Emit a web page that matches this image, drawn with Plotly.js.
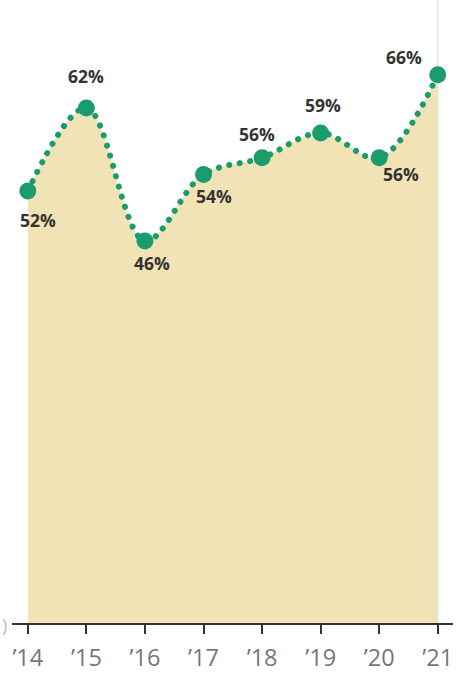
<!DOCTYPE html>
<html><head><meta charset="utf-8">
<script src="https://cdn.plot.ly/plotly-3.0.1.min.js"></script>
<style>html,body{margin:0;padding:0;background:#fff}#chart{width:474px;height:686px}</style>
</head><body><div id="chart"></div>
<script>
const years = ["’14","’15","’16","’17","’18","’19","’20","’21"];
const values = [52, 62, 46, 54, 56, 59, 56, 66];
const labels = ["52%","62%","46%","54%","56%","59%","56%","66%"];
// label placement offsets (px) relative to each point
const labelDx = [10, 0, 7, 10, -5, 2, 22, -34];
const labelDy = [-29, 32, -22, -22, 24, 28, -16, 18];

const xs = years.map((_, i) => i);

const trace = {
  x: xs, y: values, type: 'scatter', mode: 'lines+markers',
  line: {shape: 'spline', smoothing: 1, color: '#1a9c6c', width: 6, dash: '0.1px,10.5px'},
  marker: {size: 17, color: '#1a9c6c'},
  fill: 'tozeroy', fillcolor: '#f2e3b7',
  hoverinfo: 'skip', cliponaxis: false
};

const annotations = values.map((v, i) => ({
  x: i, y: v, xref: 'x', yref: 'y', text: '<b>' + labels[i] + '</b>', showarrow: false,
  xshift: labelDx[i], yshift: labelDy[i],
  font: {family: 'Open Sans, Noto Sans, sans-serif', size: 17.5, color: '#333333'}
}));
annotations.push({
  xref: 'paper', yref: 'paper', x: 0, y: -0.004, xanchor: 'left', yanchor: 'middle', xshift: -12,
  text: ')', showarrow: false, font: {family: 'Open Sans', size: 18, color: '#bbbbbb'}
});

const layout = {
  width: 474, height: 686,
  margin: {l: 12, r: 21, t: 0, b: 63},
  paper_bgcolor: '#ffffff', plot_bgcolor: '#ffffff',
  showlegend: false,
  xaxis: {
    range: [-0.27, 7.26], tickvals: xs, ticktext: years,
    showgrid: false, zeroline: false, showline: true, linecolor: '#333', linewidth: 2,
    ticks: 'outside', ticklen: 9, tickwidth: 2, tickcolor: '#333', ticklabelstandoff: 4,
    tickfont: {family: 'Open Sans, Noto Sans, sans-serif', size: 23.5, color: '#777777'},
    fixedrange: true
  },
  yaxis: {range: [0, 75], visible: false, showgrid: false, zeroline: false, fixedrange: true},
  shapes: [{type: 'line', xref: 'x', yref: 'paper', x0: 7, x1: 7, y0: 0, y1: 1,
            line: {color: '#e6e6e6', width: 1.5}, layer: 'below'}],
  annotations: annotations
};

Plotly.newPlot('chart', [trace], layout, {displayModeBar: false, staticPlot: true}).then(() => {
  document.querySelectorAll('.scatterlayer .js-line').forEach(p => {
    p.style.strokeLinecap = 'round';
  });
});
</script></body></html>
